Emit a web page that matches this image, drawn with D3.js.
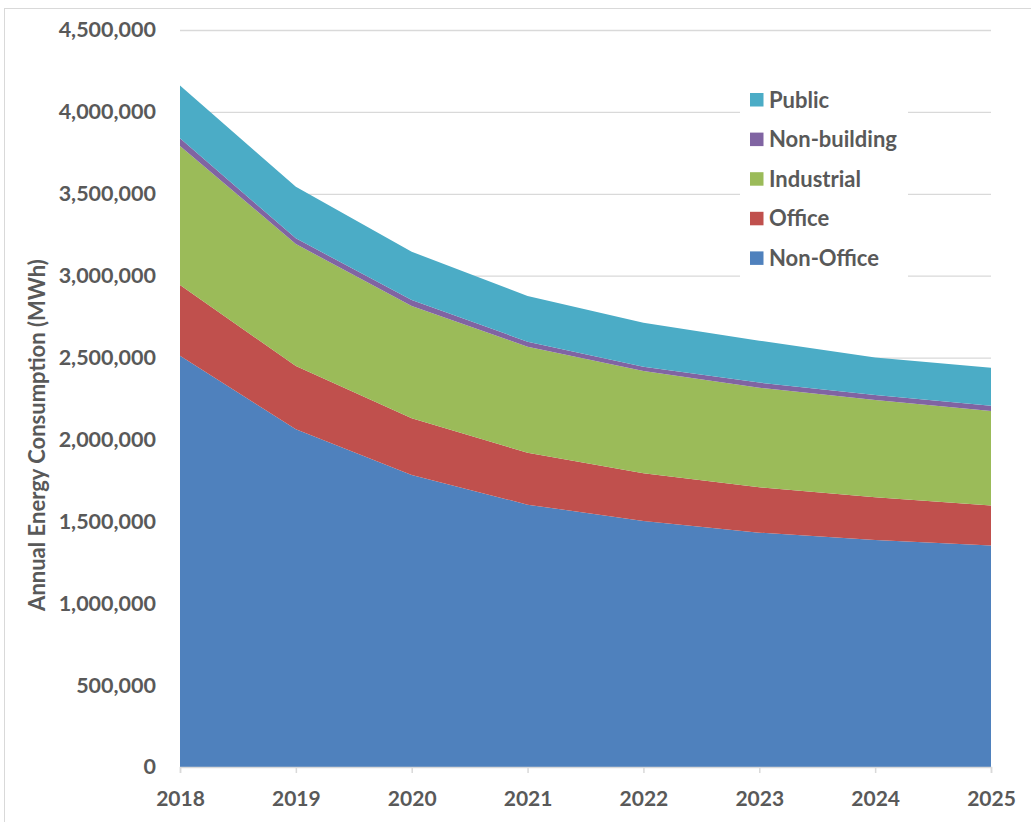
<!DOCTYPE html>
<html>
<head>
<meta charset="utf-8">
<script src="https://cdn.jsdelivr.net/npm/d3@7"></script>
<style>
  body { margin: 0; background: #fff; }
  text { font-family: Lato, "Open Sans", sans-serif; fill: #595959; font-weight: bold; }
</style>
</head>
<body>
<div id="chart"></div>
<script>
const width = 1031
const height = 822
const margin = {top: 30, bottom: 55, left: 180, right: 40}

// Data (MWh)
const years = [2018, 2019, 2020, 2021, 2022, 2023, 2024, 2025]
const nonOffice = [2511000, 2062000, 1783000, 1602000, 1502000, 1431000, 1386000, 1353000]
const office = [432000, 386000, 346000, 317000, 291000, 277000, 261000, 243000]
const industrial = [849000, 745000, 686000, 647000, 625000, 608000, 594000, 578000]
const nonBuilding = [47000, 35000, 36000, 31000, 26000, 31000, 30000, 32000]
const publicUse = [322000, 315000, 295000, 279000, 269000, 256000, 230000, 232000]
const yTicks = [0, 500000, 1000000, 1500000, 2000000, 2500000, 3000000, 3500000, 4000000, 4500000]

const seriesNames = ["Non-Office", "Office", "Industrial", "Non-building", "Public"]
const seriesValues = [nonOffice, office, industrial, nonBuilding, publicUse]
const colors = ["#4F81BD", "#C0504D", "#9BBB59", "#8064A2", "#4BACC6"]

const table = years.map((yr, i) => {
    const row = {year: yr}
    seriesNames.forEach((s, j) => row[s] = seriesValues[j][i])
    return row
})

const svg = d3.select("div#chart").append("svg").attr("width", width).attr("height", height)

// chart frame
svg.append("rect").attr("x", 4.5).attr("y", 8.5).attr("width", width + 10).attr("height", height + 10)
    .attr("fill", "none").attr("stroke", "#d9d9d9")

const x = d3.scaleLinear().domain(d3.extent(years)).range([margin.left, width - margin.right])
const y = d3.scaleLinear().domain([0, 4500000]).range([767, margin.top])

// gridlines
svg.append("g").attr("id", "grid").selectAll("line")
    .data(yTicks.slice(1))
    .join("line")
    .attr("x1", x(2018)).attr("x2", x(2025))
    .attr("y1", d => y(d) + 0.5).attr("y2", d => y(d) + 0.5)
    .attr("stroke", "#d9d9d9").attr("stroke-width", 1.3)

// stacked areas
const stack = d3.stack().keys(seriesNames)
const layers = stack(table)
const area = d3.area()
    .x(d => x(d.data.year))
    .y0(d => y(d[0]))
    .y1(d => y(d[1]))

svg.append("g").attr("id", "areas").selectAll("path")
    .data(layers)
    .join("path")
    .attr("fill", (d, i) => colors[i])
    .attr("d", area)

// y axis labels
const yAxis = d3.axisLeft(y).tickValues(yTicks).tickSize(0).tickPadding(24).tickFormat(d3.format(","))
const yAxisGroup = svg.append("g").attr("transform", `translate(${margin.left}, 0)`).call(yAxis)
yAxisGroup.select(".domain").remove()
yAxisGroup.selectAll("text").style("font-size", "21.5px").attr("fill", "#595959")

// x axis
const xAxis = d3.axisBottom(x).tickValues(years).tickSize(6).tickPadding(18).tickFormat(d3.format("d"))
const xAxisGroup = svg.append("g").attr("transform", `translate(0, 767)`).call(xAxis)
xAxisGroup.select(".domain").attr("stroke", "#d9d9d9").attr("stroke-width", 1.5)
xAxisGroup.selectAll("line").attr("stroke", "#d9d9d9").attr("stroke-width", 1.5)
xAxisGroup.selectAll("text").style("font-size", "21px").attr("fill", "#595959")

// y axis title
svg.append("text")
    .attr("transform", `translate(37, 435) rotate(-90)`)
    .attr("text-anchor", "middle")
    .attr("dy", "0.35em")
    .style("font-size", "22px")
    .text("Annual Energy Consumption (MWh)")

// legend
const legend = svg.append("g").attr("id", "legend")
legend.append("rect").attr("x", 740).attr("y", 80).attr("width", 168).attr("height", 198).attr("fill", "#fff")
const legendItems = legend.selectAll("g")
    .data(seriesNames.map((s, i) => ({name: s, color: colors[i]})).reverse())
    .join("g")
    .attr("transform", (d, i) => `translate(750, ${100 + i * 39.6})`)
legendItems.append("rect").attr("x", 0).attr("y", -7).attr("width", 13.5).attr("height", 13.5).attr("fill", d => d.color)
legendItems.append("text").attr("x", 19).attr("y", 7.5).style("font-size", "22px").text(d => d.name)
</script>
</body>
</html>
